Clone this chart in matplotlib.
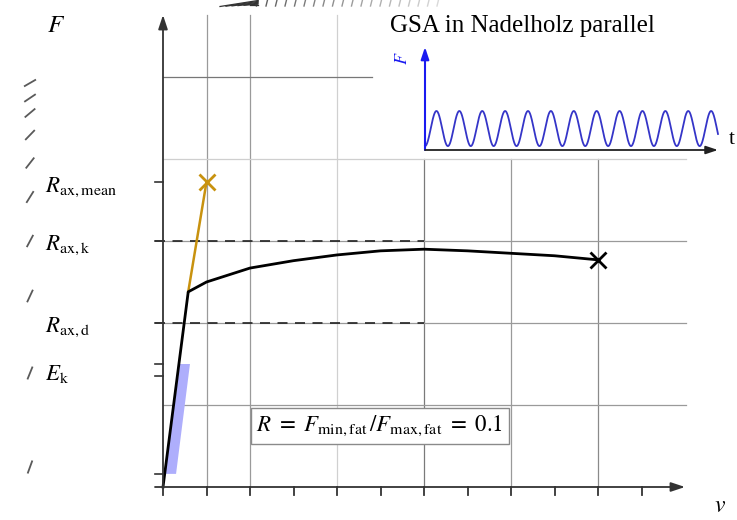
import numpy as np
import matplotlib.pyplot as plt
from matplotlib.patches import Polygon

plt.rcParams['mathtext.fontset'] = 'stix'
plt.rcParams['font.family'] = ['Liberation Serif', 'DejaVu Serif']

# load-slip curve, slip v and force F in grid steps
curve_v = [0, 0.58, 1, 2, 3, 4, 5, 6, 7, 8, 9, 10]
curve_F = [0, 2.38, 2.50, 2.67, 2.76, 2.83, 2.88, 2.90, 2.88, 2.85, 2.82, 2.77]

# stiffer branch up to the mean capacity
mean_v = [0.58, 1.0]
mean_F = [2.38, 3.72]

# levels on the F axis
R_mean, R_k, R_d = 3.72, 3.0, 2.0
E_k_ticks = [1.50, 1.354]
low_tick = 0.16
level_labels = [r'$R_{\mathrm{ax,mean}}$', r'$R_{\mathrm{ax,k}}$',
                r'$R_{\mathrm{ax,d}}$', r'$E_{\mathrm{k}}$']
label_F = [3.60, 2.89, 1.89, 1.30]

# stiffness band E_k
band_v = [0.05, 0.30, 0.62, 0.39]
band_F = [0.16, 0.16, 1.50, 1.50]

# fatigue load in the inset (R = F_min / F_max)
f_max, f_min = 1.0, 0.1
n_cycles = 12.8

# stray hatch marks at the left edge (pixel rows, angle in deg)
slash_rows = [83, 98, 113, 135, 163, 197, 241, 296, 373, 467]
slash_angle = [30, 34, 40, 46, 52, 58, 62, 65, 68, 70]

# pixel -> data mapping of the main drawing
X0, Y0, PX, PY = 163, 487, 43.5, 82.0
W, H = 737, 520


def px(x, y):
    return (x - X0) / PX, (Y0 - y) / PY


fig = plt.figure(figsize=(W / 100, H / 100), dpi=100)
ax = fig.add_axes([0, 0, 1, 1])
ax.set_xlim(px(0, 0)[0], px(W, 0)[0])
ax.set_ylim(px(0, H)[1], px(0, 0)[1])
ax.axis('off')

top = px(0, 15)[1]
right = px(686, 0)[0]

# grid
for xv, ymax, c in [(1, top, '#9a9a9a'), (2, top, '#9a9a9a'), (4, top, '#d0d0d0'),
                    (6, 4, '#7a7a7a'), (8, 4, '#9a9a9a'), (10, 4, '#8a8a8a')]:
    ax.plot([xv, xv], [0, ymax], color=c, lw=0.9, zorder=1)
for yv, xmax, c in [(1, right, '#9a9a9a'), (2, right, '#9a9a9a'), (3, right, '#9a9a9a'),
                    (4, right, '#cfcfcf'), (5, 4.8, '#777777')]:
    ax.plot([0, xmax], [yv, yv], color=c, lw=0.9, zorder=1)

# dashed design levels
tick = 8 / PX
for lv in [R_k, R_d]:
    ax.plot([-tick, 6], [lv, lv], color='#222222', lw=1.2, dashes=(6, 4.5), zorder=2)

# axes with arrows
arr = dict(arrowstyle='-|>,head_length=0.6,head_width=0.2', color='#333333',
           lw=1.3, mutation_scale=14, shrinkA=0, shrinkB=0)
ax.annotate('', xy=(0, top), xytext=(0, 0), arrowprops=arr, zorder=5)
ax.annotate('', xy=(px(685, 0)[0], 0), xytext=(-tick, 0), arrowprops=arr, zorder=5)

for xv in range(12):
    ax.plot([xv, xv], [0, -8 / PY], color='#333333', lw=1.3, zorder=5)
for lv in [R_mean, R_k, R_d] + E_k_ticks + [low_tick]:
    ax.plot([-tick, 0], [lv, lv], color='#333333', lw=1.2, zorder=5)

# stiffness band and curves
ax.add_patch(Polygon(list(zip(band_v, band_F)), closed=True, fc='#aeaefc',
                     ec='none', zorder=3))
ax.plot(mean_v, mean_F, color='#c8920f', lw=1.8, zorder=4)
ax.plot(mean_v[-1], mean_F[-1], marker='x', ms=11, mew=2, color='#c8920f', zorder=6)
ax.plot(curve_v, curve_F, color='black', lw=2, zorder=4)
ax.plot(curve_v[-1], curve_F[-1], marker='x', ms=11, mew=2, color='black', zorder=6)

# labels
ax.text(*px(47, 32), r'$F$', fontsize=18, ha='left', va='baseline')
for lab, yl in zip(level_labels, label_F):
    ax.text(px(45, 0)[0], yl, lab, fontsize=16.5, ha='left', va='baseline')
ax.text(*px(720, 507), r'$v$', fontsize=17, ha='center', va='center')

ax.text(*px(380, 426), r'$R\ =\ F_{\mathrm{min,fat}}\,/F_{\mathrm{max,fat}}\ =\ 0.1$',
        fontsize=16.5, ha='center', va='center', zorder=7,
        bbox=dict(boxstyle='square,pad=0.25', fc='white', ec='#8a8a8a', lw=1))

ax.text(*px(390, 32), 'GSA in Nadelholz parallel', fontsize=18,
        ha='left', va='baseline')

# stray marks at the edges
for r, a in zip(slash_rows, slash_angle):
    dx = 6 * np.cos(np.radians(a))
    dy = 6 * np.sin(np.radians(a))
    (x1, y1), (x2, y2) = px(30 - dx, r + dy), px(30 + dx, r - dy)
    ax.plot([x1, x2], [y1, y2], color='#5a5a5a', lw=1.3)
for i in range(20):
    xs = 258 + 9.5 * i
    g = 0.35 + 0.5 * i / 19
    (x1, y1), (x2, y2) = px(xs, 0), px(xs - 1.5, 6)
    ax.plot([x1, x2], [y1, y2], color=(g, g, g), lw=1.0)
for k in range(6):
    (x1, y1), (x2, y2) = px(220 + 6 * k, 6.5 - 0.3 * k), px(258, 0.5 + 0.9 * k)
    ax.plot([x1, x2], [y1, y2], color='#333333', lw=0.9)

# inset: cyclic load
P = 22.9
iax = fig.add_axes([425 / W, (H - 150) / H, (718 - 425) / W, (150 - 47) / H])
iax.set_xlim(0, n_cycles)
iax.set_ylim(0, 103 / 39)
iax.axis('off')
t = np.linspace(0, n_cycles, 1200)
F_mid, F_amp = (f_max + f_min) / 2, (f_max - f_min) / 2
iax.plot(t, F_mid - F_amp * np.cos(2 * np.pi * t), color='#3535c8', lw=1.3,
         clip_on=False)
iax.annotate('', xy=(0, 103 / 39), xytext=(0, 0), annotation_clip=False,
             arrowprops=dict(arrowstyle='-|>,head_length=0.6,head_width=0.2',
                             color='#1a1af0', lw=1.5, mutation_scale=12,
                             shrinkA=0, shrinkB=0))
iax.annotate('', xy=(n_cycles, 0), xytext=(0, 0), annotation_clip=False,
             arrowprops=dict(arrowstyle='-|>,head_length=0.6,head_width=0.2',
                             color='#222222', lw=1.3, mutation_scale=12,
                             shrinkA=0, shrinkB=0))
iax.text(-23 / P, 92 / 39, r'$F$', color='#1a1af0', fontsize=13, rotation=90,
         ha='center', va='center')
iax.text(307 / P, 10 / 39, 't', fontsize=15, ha='center', va='center')

fig.savefig('out.png', dpi=100)
